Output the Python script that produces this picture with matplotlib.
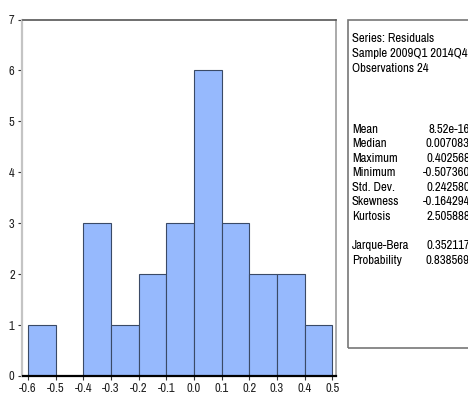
import matplotlib
matplotlib.use("Agg")
import matplotlib.pyplot as plt
from matplotlib.patches import Rectangle
import numpy as np

plt.rcParams["font.family"] = ["Archivo Narrow", "DejaVu Sans"]

# residual histogram: bin edges and counts
bin_edges = [-0.6, -0.5, -0.4, -0.3, -0.2, -0.1, 0.0, 0.1, 0.2, 0.3, 0.4, 0.5]
counts = [1, 0, 3, 1, 2, 3, 6, 3, 2, 2, 1]
x_ticks = [-0.6, -0.5, -0.4, -0.3, -0.2, -0.1, 0.0, 0.1, 0.2, 0.3, 0.4, 0.5]
y_ticks = [0, 1, 2, 3, 4, 5, 6, 7]

header = ["Series: Residuals", "Sample 2009Q1 2014Q4", "Observations 24"]
stat_names = ["Mean", "Median", "Maximum", "Minimum", "Std. Dev.", "Skewness", "Kurtosis"]
stat_values = ["8.52e-16", "0.007083", "0.402568", "-0.507360", "0.242580", "-0.164294", "2.505888"]
test_names = ["Jarque-Bera", "Probability"]
test_values = ["0.352117", "0.838569"]

W, H = 468, 401
fig = plt.figure(figsize=(W / 100, H / 100), dpi=100)
ax = fig.add_axes([23 / W, 1 - 376 / H, (336 - 23) / W, (376 - 19.5) / H])

lefts = np.array(bin_edges[:-1])
widths = np.diff(bin_edges)
ax.bar(lefts, counts, width=widths, align="edge", color="#96b9fd",
       edgecolor="#3a4a66", linewidth=0.8, zorder=2)

ax.set_xlim(-0.618, 0.5135)
ax.set_ylim(0, 7)
ax.set_xticks(x_ticks)
ax.set_xticklabels([f"{v:.1f}" for v in x_ticks])
ax.set_yticks(y_ticks)
ax.tick_params(axis="both", labelsize=9, length=3, width=0.8, color="#333333",
               labelcolor="#222222", pad=2)

ax.spines["left"].set_color("#c4c4c4")
ax.spines["left"].set_linewidth(1.6)
ax.spines["left"].set_position(("outward", 1))
ax.spines["top"].set_color("#555555")
ax.spines["top"].set_linewidth(1.2)
ax.spines["right"].set_color("#aaaaaa")
ax.spines["right"].set_linewidth(1.4)
ax.spines["bottom"].set_color("black")
ax.spines["bottom"].set_linewidth(1.6)
ax.spines["bottom"].set_zorder(3)

# statistics panel to the right of the histogram
fig.patches.append(Rectangle((348 / W, 1 - 348 / H), 200 / W, (348 - 19.5) / H,
                             transform=fig.transFigure, fill=False,
                             edgecolor="#777777", linewidth=1.2))

def fy(py):
    return 1 - py / H

fs = 9.2
for i, line in enumerate(header):
    fig.text(352 / W, fy(38 + i * 15.5), line, fontsize=fs, va="center", ha="left")

for i, (name, val) in enumerate(zip(stat_names, stat_values)):
    y = fy(129.3 + i * 14.45)
    fig.text(352 / W, y, name, fontsize=fs, va="center", ha="left")
    fig.text(470 / W, y, val, fontsize=fs, va="center", ha="right")

for i, (name, val) in enumerate(zip(test_names, test_values)):
    y = fy(245.3 + i * 14.7)
    fig.text(352 / W, y, name, fontsize=fs, va="center", ha="left")
    fig.text(470 / W, y, val, fontsize=fs, va="center", ha="right")

fig.savefig("out.png", dpi=100)
